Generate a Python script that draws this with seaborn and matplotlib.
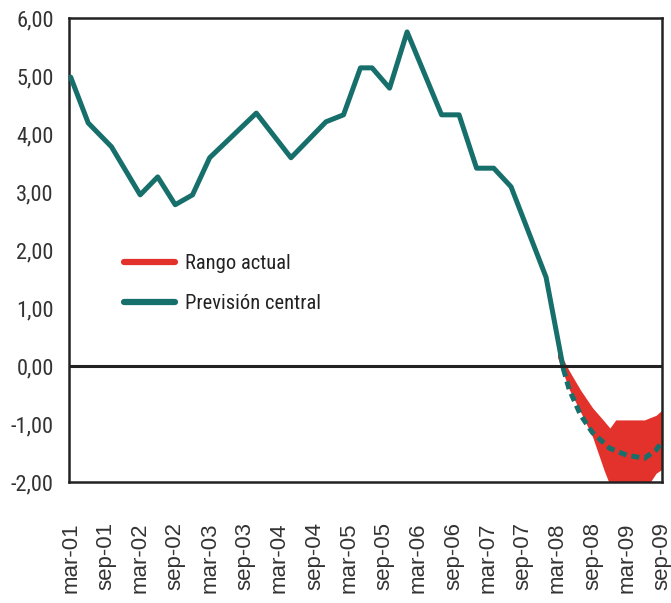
import numpy as np
import pandas as pd
import matplotlib
matplotlib.use("Agg")
import matplotlib.pyplot as plt
from matplotlib.lines import Line2D
from matplotlib import font_manager as fm
import seaborn as sns

# central forecast (solid part), monthly dates
fecha_central = ["2001-03", "2001-06", "2001-10", "2002-03", "2002-06", "2002-09",
                 "2002-12", "2003-03", "2003-11", "2004-05", "2004-11", "2005-02",
                 "2005-05", "2005-07", "2005-10", "2006-01", "2006-07", "2006-10",
                 "2007-01", "2007-04", "2007-07", "2008-01", "2008-04"]
prev_central = [4.98, 4.19, 3.78, 2.95, 3.26, 2.78,
                2.95, 3.59, 4.36, 3.59, 4.21, 4.33,
                5.14, 5.14, 4.79, 5.76, 4.33, 4.33,
                3.41, 3.41, 3.09, 1.53, -0.05]

# central forecast, dashed part
fecha_futuro = ["2008-04", "2008-05", "2008-07", "2008-09", "2008-12",
                "2009-03", "2009-06", "2009-08", "2009-09"]
prev_futuro = [-0.05, -0.40, -0.85, -1.15, -1.42, -1.54, -1.59, -1.45, -1.30]

# current range
fecha_rango = ["2008-03", "2008-05", "2008-07", "2008-09", "2008-11",
               "2008-12", "2009-01", "2009-03", "2009-06", "2009-08", "2009-09"]
rango_alto = [0.31, -0.08, -0.42, -0.72, -0.95, -1.07, -0.93, -0.93, -0.93, -0.85, -0.76]
rango_bajo = [0.15, -0.40, -0.80, -1.22, -1.80, -2.05, -2.20, -2.20, -2.15, -1.85, -1.78]

tick_fechas = pd.date_range("2001-03-01", "2009-09-01", freq="6MS")
tick_labels = ["mar-01", "sep-01", "mar-02", "sep-02", "mar-03", "sep-03",
               "mar-04", "sep-04", "mar-05", "sep-05", "mar-06", "sep-06",
               "mar-07", "sep-07", "mar-08", "sep-08", "mar-09", "sep-09"]
y_ticks = [6, 5, 4, 3, 2, 1, 0, -1, -2]
y_labels = ["6,00", "5,00", "4,00", "3,00", "2,00", "1,00", "0,00", "-1,00", "-2,00"]

teal = "#176f6b"
rojo = "#e3322b"

sns.set_style("white")
plt.rcParams["font.family"] = ["Liberation Sans", "DejaVu Sans"]

# look for a narrow font for the y labels and legend (the original uses one)
preferidas = ["Liberation Sans Narrow", "Arial Narrow", "Roboto Condensed",
              "Open Sans Condensed", "Noto Sans Condensed", "DejaVu Sans Condensed"]
estrecha = None
for nombre in preferidas:
    for f in fm.fontManager.ttflist:
        if nombre.replace(" ", "") in f.fname.replace("-", "").replace("_", "") or f.name == nombre:
            if "Bold" not in f.fname and "Italic" not in f.fname and "Oblique" not in f.fname:
                estrecha = f.fname
                break
    if estrecha:
        break
fuente = fm.FontProperties(fname=estrecha) if estrecha else fm.FontProperties(family="Liberation Sans")

df_c = pd.DataFrame({"fecha": pd.to_datetime(fecha_central), "valor": prev_central})
df_f = pd.DataFrame({"fecha": pd.to_datetime(fecha_futuro), "valor": prev_futuro})
df_r = pd.DataFrame({"fecha": pd.to_datetime(fecha_rango), "alto": rango_alto, "bajo": rango_bajo})

fig = plt.figure(figsize=(6.71, 6.03), dpi=100)
ax = fig.add_axes([0.1028, 0.2007, 0.8838, 0.7695])
renderer = fig.canvas.get_renderer()


def ajustar(texto, ancho_px, max_pt):
    # font size so that texto is about ancho_px wide, but not above max_pt
    t = fig.text(0, 0, texto, fontproperties=fuente, fontsize=max_pt)
    w = t.get_window_extent(renderer).width
    t.remove()
    return min(max_pt, max_pt * ancho_px / w)


tam_y = ajustar("-1,00", 43, 18)
tam_leg = ajustar("Previsión central", 136, 18)
fs_px = tam_leg * 100 / 72

ax.fill_between(df_r["fecha"], df_r["bajo"], df_r["alto"], color=rojo, lw=0, zorder=2)
sns.lineplot(data=df_c, x="fecha", y="valor", ax=ax, color=teal, lw=3.6, zorder=3)
sns.lineplot(data=df_f, x="fecha", y="valor", ax=ax, color=teal, lw=3.6, zorder=3,
             linestyle=(0, (1.6, 1.0)))
ax.axhline(0, color="#222222", lw=2.2, zorder=4)

ax.set_xlim(pd.Timestamp("2001-02-20"), pd.Timestamp("2009-09-01"))
ax.set_ylim(-2, 6)
ax.set_xlabel("")
ax.set_ylabel("")

ax.set_yticks(y_ticks)
ax.set_yticklabels(y_labels, fontproperties=fuente, fontsize=tam_y, color="#333333")
ax.set_xticks(tick_fechas)
ax.set_xticklabels(tick_labels, rotation=90, fontsize=16, color="#333333")
ax.tick_params(axis="y", direction="in", length=10, width=1.5, color="#bbbbbb", pad=11)
ax.tick_params(axis="x", direction="in", length=10, width=1.5, color="#111111", pad=29)

for s in ax.spines.values():
    s.set_color("#222222")
    s.set_linewidth(1.8)

prop_leg = fuente.copy()
prop_leg.set_size(tam_leg)
handles = [Line2D([], [], color=rojo, lw=4.5), Line2D([], [], color=teal, lw=4.5)]
leg = ax.legend(handles, ["Rango actual", "Previsión central"], loc="upper left",
                bbox_to_anchor=(0.092, (482 - 267 + 0.62 * fs_px) / 464), frameon=False,
                prop=prop_leg, borderpad=0, borderaxespad=0,
                handlelength=51 / fs_px, labelspacing=45 / fs_px - 1.17,
                handletextpad=10 / fs_px)
for t in leg.get_texts():
    t.set_color("#222222")

fig.savefig("out.png", dpi=100)
